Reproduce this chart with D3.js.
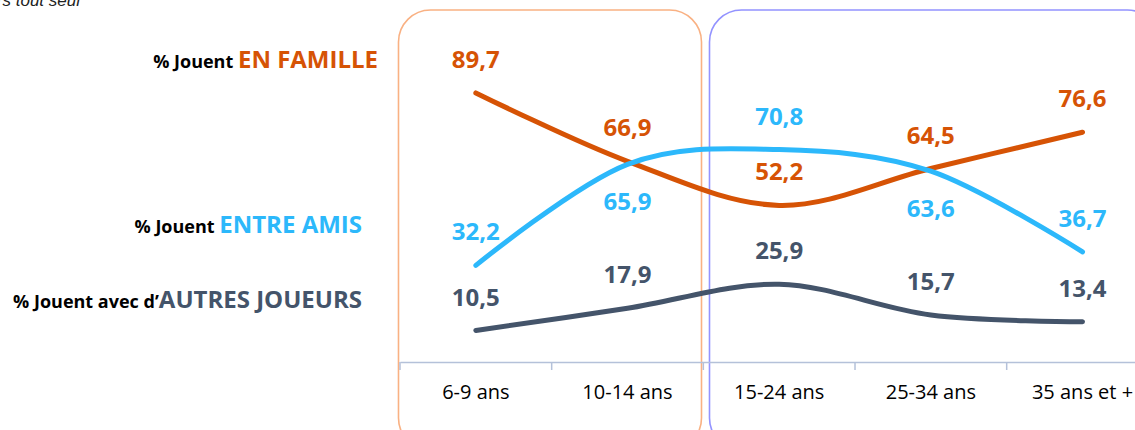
<!DOCTYPE html>
<html>
<head>
<meta charset="utf-8">
<script src="https://cdn.jsdelivr.net/npm/d3@7"></script>
<style>
  body { margin: 0; background: #fff; }
  svg { display: block; font-family: "Open Sans", sans-serif; }
</style>
</head>
<body>
<script>
// data
const categories = ['6-9 ans', '10-14 ans', '15-24 ans', '25-34 ans', '35 ans et  +'];
const famille = [89.7, 66.9, 52.2, 64.5, 76.6];
const amis = [32.2, 65.9, 70.8, 63.6, 36.7];
const autres = [10.5, 17.9, 25.9, 15.7, 13.4];
// where each value label sits relative to its point
const familleSide = ['above', 'above', 'above', 'above', 'above'];
const amisSide = ['above', 'below', 'above', 'below', 'above'];
const autresSide = ['above', 'above', 'above', 'above', 'above'];

const width = 1135, height = 430;
const orange = '#d65305', blue = '#2cb8fb', slate = '#44546a';

const svg = d3.select('body').append('svg')
  .attr('width', width)
  .attr('height', height);

// x scale, one band per age group
const band = 151.67;
const x = d3.scaleBand().domain(categories).range([400, 400 + band * categories.length]);
const y = d3.scaleLinear().domain([0, 100]).range([362, 62]);
const cx = d => x(d) + x.bandwidth() / 2;

// rounded frames behind the chart
svg.append('rect')
  .attr('x', 398.5).attr('y', 10).attr('width', 303).attr('height', 440)
  .attr('rx', 32).attr('ry', 32)
  .attr('fill', 'none').attr('stroke', '#f9b183').attr('stroke-width', 1.6);
svg.append('rect')
  .attr('x', 709.5).attr('y', 10).attr('width', 450).attr('height', 440)
  .attr('rx', 32).attr('ry', 32)
  .attr('fill', 'none').attr('stroke', '#9393ff').attr('stroke-width', 1.6);

// x axis
const xAxis = svg.append('g')
  .attr('transform', 'translate(0,362)')
  .call(d3.axisBottom(x).tickSize(0).tickPadding(19));
xAxis.select('.domain').attr('stroke', '#b4c1d9').attr('stroke-width', 1.5);
xAxis.selectAll('.tick text')
  .attr('dy', '0.9em')
  .style('font-size', '20px')
  .style('font-family', '"Open Sans", sans-serif')
  .attr('fill', '#000');

// tick marks between categories
xAxis.selectAll('.sep')
  .data(categories)
  .enter()
  .append('line')
  .attr('class', 'sep')
  .attr('x1', d => x(d)).attr('x2', d => x(d))
  .attr('y1', 0).attr('y2', 8)
  .attr('stroke', '#b4c1d9').attr('stroke-width', 1.5);

const line = d3.line()
  .x((d, i) => cx(categories[i]))
  .y(d => y(d))
  .curve(d3.curveCardinal.tension(0));

const series = [
  { values: autres, side: autresSide, color: slate },
  { values: famille, side: familleSide, color: orange },
  { values: amis, side: amisSide, color: blue }
];

series.forEach(s => {
  svg.append('path')
    .datum(s.values)
    .attr('d', line)
    .attr('fill', 'none')
    .attr('stroke', s.color)
    .attr('stroke-width', 5)
    .attr('stroke-linecap', 'round');
});

series.forEach(s => {
  svg.append('g')
    .selectAll('text')
    .data(s.values)
    .enter()
    .append('text')
    .attr('x', (d, i) => cx(categories[i]))
    .attr('y', (d, i) => s.side[i] === 'above' ? y(d) - 25 : y(d) + 46)
    .attr('text-anchor', 'middle')
    .style('font-size', '24px')
    .style('font-weight', 'bold')
    .attr('fill', s.color)
    .text(d => d.toFixed(1).replace('.', ','));
});

// labels on the left
const legend = [
  { small: '% Jouent ', big: 'EN FAMILLE', color: orange, x: 378, y: 68 },
  { small: '% Jouent ', big: 'ENTRE AMIS', color: blue, x: 362, y: 233 },
  { small: '% Jouent avec d\u2019', big: 'AUTRES JOUEURS', color: slate, x: 362, y: 308 }
];
legend.forEach(l => {
  const t = svg.append('text')
    .attr('x', l.x).attr('y', l.y)
    .attr('text-anchor', 'end')
    .style('font-weight', 'bold');
  t.append('tspan').style('font-size', '18px').attr('fill', '#000').text(l.small);
  t.append('tspan').style('font-size', '24px').attr('fill', l.color).text(l.big);
});

// clipped caption at the very top
svg.append('text')
  .attr('x', 80).attr('y', 6)
  .attr('text-anchor', 'end')
  .style('font-family', '"Liberation Sans", Arial, sans-serif')
  .style('font-style', 'italic')
  .style('font-size', '17px')
  .attr('fill', '#222')
  .text('% Jouent toujours tout seul');
</script>
</body>
</html>
